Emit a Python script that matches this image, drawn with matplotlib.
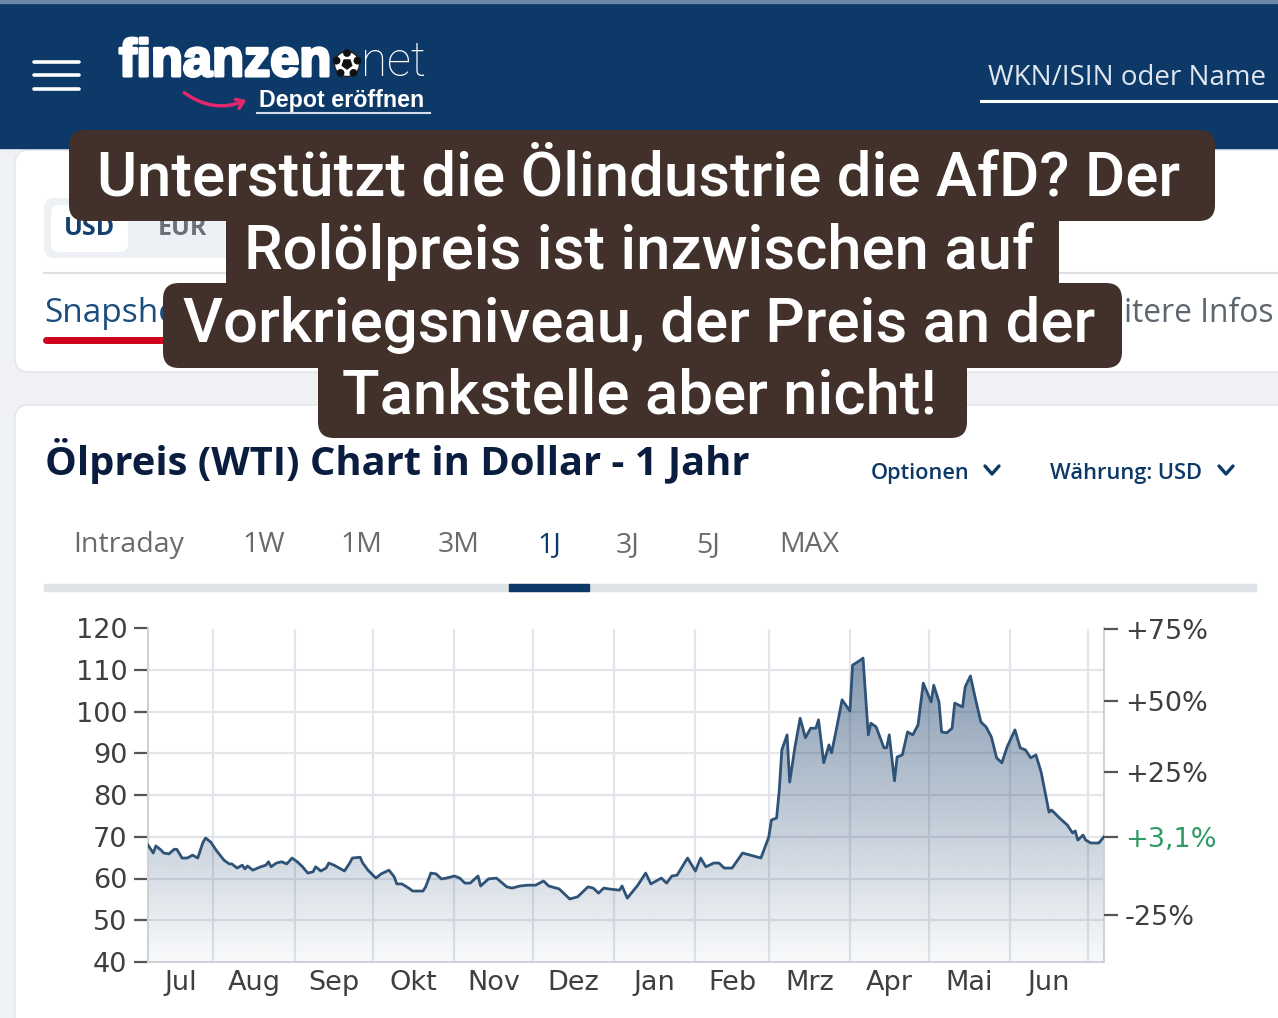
import numpy as np
import pandas as pd
import matplotlib
matplotlib.use("Agg")
import matplotlib.pyplot as plt
import matplotlib.dates as mdates
import matplotlib.patheffects as pe
from matplotlib.colors import to_rgb
from matplotlib.patches import FancyBboxPatch, Rectangle, Circle, RegularPolygon, FancyArrowPatch

# ----------------------------------------
# Data (WTI, 1 year)
# ----------------------------------------
START = "2025-07-07"
END = "2026-07-07"

days = [
  0, 2, 3, 5, 6, 8, 10, 11, 13, 15, 17, 19, 21, 22, 24, 26, 29, 31, 32, 34,
  36, 37, 38, 40, 43, 45, 46, 47, 49, 51, 53, 55, 57, 59, 61, 63, 64, 66, 68, 69,
  71, 73, 75, 77, 78, 81, 82, 84, 87, 89, 92, 94, 95, 97, 100, 101, 105, 106, 108, 110,
  112, 114, 117, 119, 121, 123, 126,
  127, 130, 133, 137, 139, 142, 145, 148, 151, 153, 157, 161, 164, 168, 170, 172, 174, 176, 180, 181,
  183, 187, 190, 192, 196, 198, 200, 202, 206, 209, 211, 213, 216, 218, 220, 223, 227, 230, 234,
  237, 238, 240, 241, 242, 244, 245, 247, 249, 251, 253, 255, 256, 258, 260, 261, 263, 265, 268, 269,
  272, 273, 275, 276, 278, 281, 282, 283, 285, 286, 288, 290, 292, 294, 296, 299, 300, 302, 303, 305,
  307, 308, 311, 312, 314, 316, 318, 320, 322, 324, 326, 328, 331, 333, 335, 337, 339, 341, 344, 345,
  348, 351, 353, 354, 355, 357, 358, 360, 363, 365,
]
prices = [
  68.0, 66.1, 67.8, 66.8, 66.1, 65.9, 67.0, 67.0, 64.9, 64.9, 65.6, 64.9, 68.7, 69.7, 68.7, 66.8, 64.4, 63.5, 63.5, 62.5,
  63.2, 62.3, 63.0, 62.0, 62.8, 63.2, 64.0, 62.8, 63.7, 64.0, 63.5, 64.9, 64.0, 62.8, 61.3, 61.6, 62.8, 61.8, 62.5, 63.7,
  63.2, 62.5, 61.8, 63.7, 64.9, 65.1, 63.7, 62.0, 60.1, 61.1, 62.0, 60.4, 58.7, 58.7, 57.5, 57.0, 57.0, 58.0, 61.3, 61.1,
  59.9, 60.1, 60.6, 60.1, 58.9, 58.9, 60.6,
  58.2, 59.9, 60.1, 58.0, 57.7, 58.2, 58.4, 58.4, 59.4, 58.2, 57.5, 55.1, 55.6, 58.0, 57.7, 56.5, 57.7, 57.5, 57.2, 58.2,
  55.3, 58.4, 61.3, 58.7, 60.1, 58.9, 60.6, 60.8, 64.9, 61.8, 64.9, 62.8, 63.7, 63.7, 62.5, 62.5, 66.1, 65.6, 64.9,
  69.9, 74.0, 74.5, 81.0, 90.8, 94.4, 83.1, 91.5, 98.4, 93.7, 96.0, 96.0, 98.0, 87.7, 92.0, 90.1, 96.3, 102.8, 100.1, 111.1,
  112.3, 112.8, 94.4, 97.2, 96.3, 91.3, 91.3, 94.4, 83.4, 89.1, 89.6, 95.1, 94.4, 96.8, 106.8, 102.3, 106.3, 102.3, 95.1, 94.9,
  96.0, 102.0, 101.1, 105.9, 108.5, 102.8, 97.5, 96.3, 93.9, 88.9, 87.7, 91.5, 95.6, 91.3, 90.8, 88.9, 89.6, 85.5, 75.9, 76.4,
  74.5, 72.8, 70.9, 71.4, 69.2, 70.4, 69.2, 68.5, 68.5, 70.0,
]

base_price = 68.4
price_ticks = [40, 50, 60, 70, 80, 90, 100, 110, 120]
pct_ticks = [75, 50, 25, -25]
pct_labels = ["+75%", "+50%", "+25%", "-25%"]
current_label = "+3,1%"
month_names = ["Jul", "Aug", "Sep", "Okt", "Nov", "Dez", "Jan", "Feb", "Mrz", "Apr", "Mai", "Jun", "Jul"]

headline = [
  "Unterstützt die Ölindustrie die AfD? Der",
  "Rolölpreis ist inzwischen auf",
  "Vorkriegsniveau, der Preis an der",
  "Tankstelle aber nicht!",
]
chart_title = "Ölpreis (WTI) Chart in Dollar - 1 Jahr"
tabs = ["Intraday", "1W", "1M", "3M", "1J", "3J", "5J", "MAX"]
active_tab = "1J"

# ----------------------------------------
# Colours
# ----------------------------------------
NAVY = "#0c3968"
PAGE = "#eff1f4"
BROWN = "#42302a"
LINE = "#2f5277"
GRID = "#e3e5ea"

W, H = 1278, 1018
fig = plt.figure(figsize=(W / 100, H / 100), dpi=100)
renderer = fig.canvas.get_renderer()

# page layer in pixel coordinates (y downwards)
bg = fig.add_axes([0, 0, 1, 1])
bg.set_xlim(0, W)
bg.set_ylim(H, 0)
bg.axis("off")
bg.set_zorder(0)
bg.add_patch(Rectangle((0, 0), W, H, color=PAGE, zorder=0))


def box(x0, y0, x1, y1, r, **kw):
  p = FancyBboxPatch((x0, y0), x1 - x0, y1 - y0,
                     boxstyle=f"round,pad=0,rounding_size={r}", **kw)
  bg.add_patch(p)
  return p


def fit_width(t, width):
  w = t.get_window_extent(renderer).width
  t.set_fontsize(t.get_fontsize() * width / w)
  return t


# cards
box(15, 150, 1300, 372, 14, facecolor="white", edgecolor="#e2e5e9", lw=1, zorder=1)
box(15, 405, 1300, 1060, 14, facecolor="white", edgecolor="#e2e5e9", lw=1, zorder=1)

# header
bg.add_patch(Rectangle((0, 0), W, 148, color=NAVY, zorder=2))
bg.add_patch(Rectangle((0, 0), W, 3, color="#6d88a6", zorder=2))
for yy in [62, 75, 89]:
  bg.plot([34, 79], [yy, yy], color="white", lw=2.6, solid_capstyle="round", zorder=3)

t = bg.text(119, 76, "finanzen", color="white", fontsize=38, fontweight="bold",
            family="Liberation Sans", va="baseline", zorder=3,
            path_effects=[pe.withStroke(linewidth=2.2, foreground="white")])
fit_width(t, 212)
bg.add_patch(Circle((347, 64), 12.5, facecolor="white", edgecolor="#222", lw=1, zorder=3))
bg.add_patch(RegularPolygon((347, 64), 5, radius=5, color="#111", zorder=4))
for ang in np.deg2rad([90, 162, 234, 306, 18]):
  bg.add_patch(Circle((347 + 11 * np.cos(ang), 64 - 11 * np.sin(ang)), 3.2, color="#111", zorder=4))
t = bg.text(361, 76, "net", color="white", fontsize=38, fontweight="light", family="Roboto",
            va="baseline", zorder=3)
fit_width(t, 65)
t = bg.text(259, 107, "Depot eröffnen", color="white", fontsize=15, fontweight="bold",
            family="Liberation Sans", va="baseline", zorder=3)
fit_width(t, 166)
bg.plot([257, 430], [113, 113], color="#d7deea", lw=1.5, zorder=3)
bg.add_patch(FancyArrowPatch((182, 91), (249, 99), connectionstyle="arc3,rad=0.3",
                             arrowstyle="->,head_length=5,head_width=3.5",
                             color="#e3276f", lw=2.5, zorder=3))

t = bg.text(988, 78, "WKN/ISIN oder Name", color="#dfe6ef", fontsize=21,
            family="Open Sans", va="center", zorder=3)
fit_width(t, 278)
bg.plot([981, W], [101, 101], color="white", lw=2.2, zorder=3)

# first card contents
box(44, 198, 240, 258, 10, facecolor="#edf0f4", edgecolor="none", zorder=2)
box(51, 205, 128, 252, 8, facecolor="white", edgecolor="none", zorder=2)
bg.text(90, 228, "USD", color="#14406f", fontsize=18, fontweight="bold",
        family="Open Sans", ha="center", va="center", zorder=3)
bg.text(182, 228, "EUR", color="#6b6f76", fontsize=18, fontweight="bold",
        family="Open Sans", ha="center", va="center", zorder=3)
bg.plot([44, W], [273, 273], color="#dcdfe3", lw=1.5, zorder=2)
bg.text(44, 322, "Snapshot", color="#1b4d7e", fontsize=24, family="Open Sans",
        va="baseline", zorder=3)
bg.plot([46, 200], [340, 340], color="#d0021b", lw=5, solid_capstyle="round", zorder=3)
# "Weitere Infos" tab, only its tail shows beside the overlay
t = bg.text(1124, 322, "itere Infos", color="#5d6670", fontsize=24, family="Open Sans",
            va="baseline", zorder=3)
fit_width(t, 150)

# headline overlay
box(69, 130, 1215, 221, 16, facecolor=BROWN, edgecolor="none", zorder=5)
box(226, 205, 1059, 300, 16, facecolor=BROWN, edgecolor="none", zorder=5)
box(163, 283, 1122, 368, 16, facecolor=BROWN, edgecolor="none", zorder=5)
box(318, 352, 967, 438, 16, facecolor=BROWN, edgecolor="none", zorder=5)
hl_base = [195, 269, 342, 414]
t0 = bg.text(639, hl_base[0], headline[0], color="white", fontsize=45, fontweight="medium",
             family="Roboto", ha="center", va="baseline", zorder=6)
fit_width(t0, 1084)
for line, yb in zip(headline[1:], hl_base[1:]):
  bg.text(639, yb, line, color="white", fontsize=t0.get_fontsize(), fontweight="medium",
          family="Roboto", ha="center", va="baseline", zorder=6)

# second card: title, options, tabs
t = bg.text(45, 475, chart_title, color="#0a1d3f", fontsize=25, fontweight="bold",
            family="Open Sans", va="baseline", zorder=3)
fit_width(t, 705)
t = bg.text(871, 479, "Optionen", color=NAVY, fontsize=16, fontweight="semibold",
            family="Open Sans", va="baseline", zorder=3)
fit_width(t, 99)
t = bg.text(1050, 479, "Währung: USD", color=NAVY, fontsize=16, fontweight="semibold",
            family="Open Sans", va="baseline", zorder=3)
fit_width(t, 153)
for cx in [992, 1226]:
  bg.plot([cx - 7, cx, cx + 7], [466, 474, 466], color=NAVY, lw=2.4,
          solid_capstyle="round", solid_joinstyle="round", zorder=3)

tab_x = [129, 264, 361, 459, 549, 628, 708, 809]
for name, cx in zip(tabs, tab_x):
  bg.text(cx, 552, name, color=NAVY if name == active_tab else "#6b6b6b", fontsize=20.5,
          family="Open Sans", ha="center", va="baseline", zorder=3)
bg.add_patch(Rectangle((44, 584), 1212, 7, color="#dfe2e6", zorder=2))
bg.add_patch(Rectangle((509, 584), 80, 7, color=NAVY, zorder=3))

# ----------------------------------------
# Chart
# ----------------------------------------
x0, x1, y_top, y_bot = 148, 1104, 628, 962
ax = fig.add_axes([x0 / W, (H - y_bot) / H, (x1 - x0) / W, (y_bot - y_top) / H])
ax.set_zorder(1)

dates = pd.Timestamp(START) + pd.to_timedelta(days, unit="D")
xn = mdates.date2num(dates)
xs, xe = mdates.date2num(pd.Timestamp(START)), mdates.date2num(pd.Timestamp(END))

month_starts = pd.date_range(START, END, freq="MS")
for m in month_starts:
  ax.axvline(mdates.date2num(m), ymax=0.995, color=GRID, lw=1.6, zorder=0.5)
for v in price_ticks[1:-1]:
  ax.axhline(v, color=GRID, lw=1.6, zorder=0.5)

# gradient fill under the line
fill = ax.fill_between(xn, prices, 40, facecolor="none", edgecolor="none")
rgba = np.zeros((256, 1, 4))
rgba[..., :3] = to_rgb("#2c4f77")
rgba[:, 0, 3] = np.linspace(0.63, 0.03, 256)
im = ax.imshow(rgba, extent=[xs, xe, 40, 120], aspect="auto", origin="upper",
               interpolation="bilinear", zorder=1)
im.set_clip_path(fill.get_paths()[0], transform=ax.transData)
ax.plot(xn, prices, color=LINE, lw=2.0, zorder=3, solid_joinstyle="round")

ax.set_xlim(xs, xe)
ax.set_ylim(40, 120)

# month labels in the middle of each visible month
edges = [xs] + [mdates.date2num(m) for m in month_starts] + [xe]
mids, labels = [], []
for i in range(len(edges) - 1):
  if edges[i + 1] - edges[i] > 15:
    mids.append((edges[i] + edges[i + 1]) / 2)
    labels.append(month_names[i])
ax.set_xticks(mids, labels)
ax.tick_params(axis="x", length=0, pad=6, labelsize=19.5, labelcolor="#3f3f3f")
ax.set_yticks(price_ticks)
ax.tick_params(axis="y", length=10, width=1.6, color="#555555", direction="out",
               pad=5, labelsize=19.5, labelcolor="#3f3f3f")
for s in ["left", "bottom", "right"]:
  ax.spines[s].set_color("#cdd1d8")
  ax.spines[s].set_linewidth(1.5)
ax.spines["top"].set_visible(False)

# right axis: change in percent
ax2 = ax.twinx()
ax2.set_zorder(2)
ax2.set_ylim(40, 120)
r_ticks = [base_price * (1 + p / 100) for p in pct_ticks] + [prices[-1]]
ax2.set_yticks(r_ticks, pct_labels + [current_label])
ax2.tick_params(axis="y", length=10, width=1.6, color="#555555", direction="out",
                pad=5, labelsize=19.5, labelcolor="#3f3f3f")
ax2.get_yticklabels()[-1].set_color("#2f9a63")
for s in ax2.spines.values():
  s.set_visible(False)

fig.savefig("out.png", dpi=100)
